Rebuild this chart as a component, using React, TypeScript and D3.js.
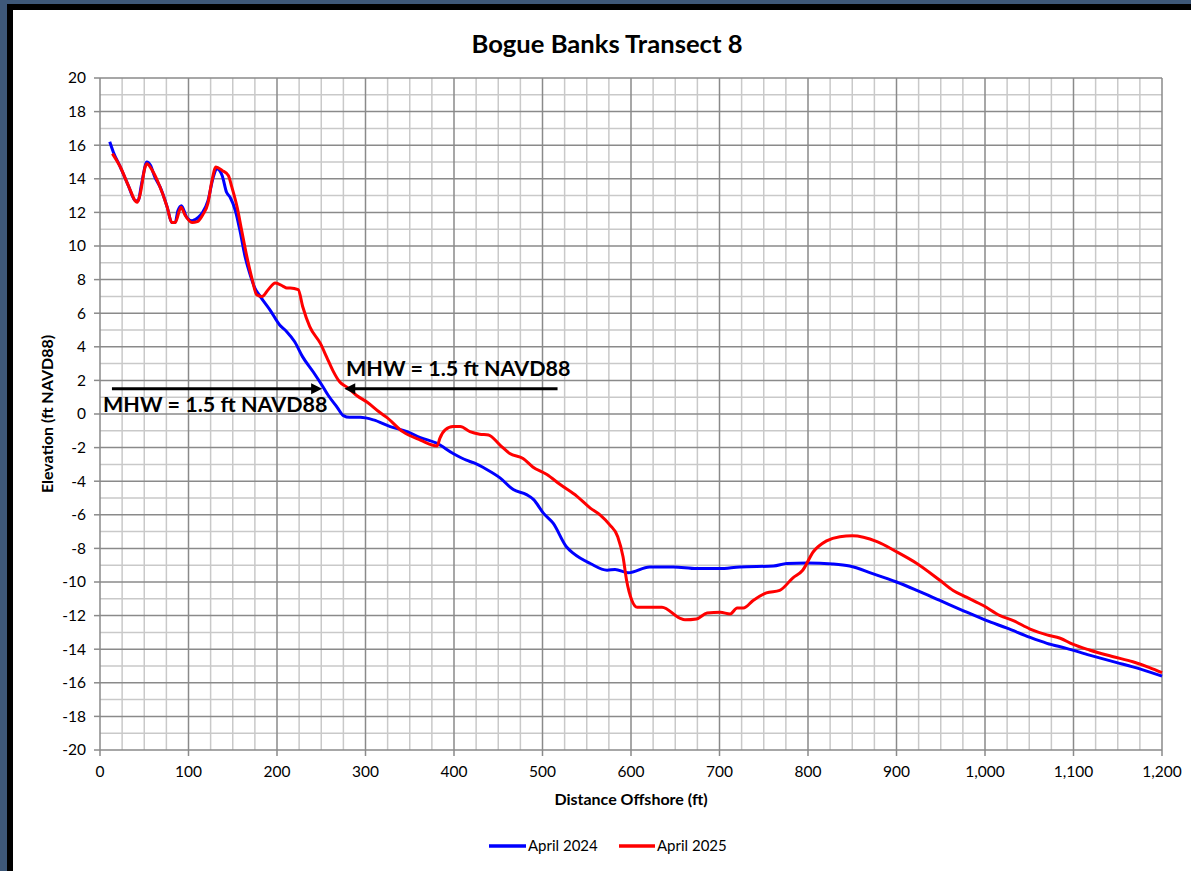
import React from "react";
import * as d3 from "d3";

// ---- Data ----
const title = "Bogue Banks Transect 8";
const xLabel = "Distance Offshore (ft)";
const yLabel = "Elevation (ft NAVD88)";
const seriesNames = ["April 2024", "April 2025"];
const seriesColors = ["#0000ff", "#ff0000"];

const xTicks = [0, 100, 200, 300, 400, 500, 600, 700, 800, 900, 1000, 1100, 1200];
const yTicks = [-20, -18, -16, -14, -12, -10, -8, -6, -4, -2, 0, 2, 4, 6, 8, 10, 12, 14, 16, 18, 20];

const april2024X = [11, 15, 23, 32, 40, 43, 47, 53, 57, 62, 68, 76, 81, 85, 88, 92, 98, 104, 111, 116, 122, 128, 132, 138, 143, 147, 153, 158, 164, 169, 175, 181, 192, 203, 211, 220, 229, 241, 251, 258, 268, 275, 282, 294, 309, 328, 347, 362, 381, 399, 414, 422, 437, 452, 467, 482, 490, 501, 512, 527, 535, 554, 573, 582, 597, 621, 648, 674, 700, 723, 761, 776, 799, 828, 847, 873, 900, 923, 949, 975, 1002, 1025, 1051, 1070, 1092, 1118, 1149, 1167, 1200];
const april2024Y = [16.2, 15.6, 14.7, 13.6, 12.7, 12.7, 13.7, 15.0, 14.8, 14.1, 13.5, 12.3, 11.4, 11.4, 12.1, 12.4, 11.7, 11.5, 11.7, 12.0, 12.7, 14.1, 14.6, 14.2, 13.2, 12.9, 12.1, 10.95, 9.35, 8.4, 7.5, 7.0, 6.2, 5.3, 4.9, 4.3, 3.4, 2.5, 1.7, 1.1, 0.4, -0.1, -0.2, -0.2, -0.35, -0.75, -1.05, -1.4, -1.75, -2.35, -2.75, -2.9, -3.3, -3.8, -4.5, -4.8, -5.1, -5.9, -6.5, -7.9, -8.3, -8.9, -9.3, -9.25, -9.45, -9.1, -9.1, -9.2, -9.2, -9.1, -9.05, -8.9, -8.87, -8.93, -9.05, -9.5, -10.0, -10.5, -11.1, -11.7, -12.3, -12.75, -13.3, -13.65, -13.95, -14.35, -14.8, -15.05, -15.6];

const april2025X = [14, 23, 32, 42, 45, 51, 53, 59, 66, 76, 81, 85, 91.5, 96, 104, 110, 116, 122, 126, 131, 138, 145, 149, 155, 160, 166, 172, 177, 183, 190, 198, 207, 211, 215, 224, 229, 237, 249, 256, 263, 271, 279, 290, 302, 316, 324, 342, 362, 381, 384, 390, 399, 407, 418, 429, 439, 452, 463, 478, 489, 505, 520, 539, 554, 565, 576, 585, 591, 595, 601, 607, 635, 655, 661, 674, 686, 701, 712, 720, 727, 738, 753, 768, 783, 794, 806, 821, 836, 850, 878, 900, 923, 949, 964, 979, 998, 1017, 1032, 1051, 1070, 1085, 1099, 1118, 1145, 1167, 1186, 1200];
const april2025Y = [15.5, 14.7, 13.6, 12.6, 13.0, 14.7, 14.9, 14.5, 13.75, 12.3, 11.4, 11.4, 12.3, 11.85, 11.4, 11.45, 11.85, 12.55, 13.75, 14.7, 14.5, 14.2, 13.5, 12.3, 10.95, 9.35, 8.0, 7.1, 7.0, 7.4, 7.8, 7.6, 7.5, 7.5, 7.4, 6.4, 5.2, 4.2, 3.4, 2.6, 1.9, 1.6, 1.1, 0.7, 0.1, -0.2, -1.05, -1.55, -1.9, -1.45, -0.95, -0.75, -0.75, -1.05, -1.2, -1.25, -1.85, -2.35, -2.65, -3.15, -3.6, -4.2, -4.9, -5.6, -6.0, -6.6, -7.3, -8.5, -9.9, -11.1, -11.5, -11.5, -12.15, -12.25, -12.2, -11.85, -11.8, -11.9, -11.55, -11.55, -11.1, -10.65, -10.5, -9.75, -9.3, -8.2, -7.55, -7.3, -7.25, -7.6, -8.2, -8.9, -9.9, -10.5, -10.9, -11.4, -12.0, -12.3, -12.8, -13.15, -13.35, -13.7, -14.05, -14.45, -14.75, -15.1, -15.4];

// MHW annotations: arrow start/end x (ft) at elevation mhwValue
const mhwValue = 1.5;
const mhwText = "MHW = 1.5 ft NAVD88";
const arrowFromX = [13.5, 517];
const arrowToX = [251, 276];

const W = 1191;
const H = 871;
const FONT = "Lato, 'Open Sans', sans-serif";

export default function App() {
  const left = 100, right = 1162, top = 78, bottom = 750;
  const x = d3.scaleLinear().domain([0, 1200]).range([left, right]);
  const y = d3.scaleLinear().domain([-20, 20]).range([bottom, top]);

  const minorX = d3.range(0, 1201, 25).filter((v) => v % 100 !== 0);
  const minorY = d3.range(-20, 21, 1).filter((v) => v % 2 !== 0);

  const line = d3
    .line<[number, number]>()
    .x((d) => x(d[0]))
    .y((d) => y(d[1]))
    .curve(d3.curveMonotoneX);

  const s1 = april2024X.map((v, i) => [v, april2024Y[i]] as [number, number]);
  const s2 = april2025X.map((v, i) => [v, april2025Y[i]] as [number, number]);

  const fmt = d3.format(",");
  const ay = y(mhwValue);

  const arrowHead = (tipX: number, dir: number) => {
    const len = 11, half = 5.5;
    return `M${tipX},${ay} L${tipX - dir * len},${ay - half} L${tipX - dir * len},${ay + half} Z`;
  };

  return (
    <div style={{ position: "absolute", left: 0, top: 0, width: W, height: H }}>
      <svg width={W} height={H} style={{ display: "block" }}>
        <rect x={0} y={0} width={W} height={H} fill="#3e5879" />
        <rect x={7} y={4} width={W - 7} height={H - 4} fill="#000" />
        <rect x={13} y={10} width={W - 13} height={H - 10} fill="#fff" />

        <text x={607} y={53} textAnchor="middle" fontFamily={FONT} fontWeight="bold" fontSize={25.6} fill="#000">
          {title}
        </text>

        {/* minor grid */}
        {minorX.map((v) => (
          <line key={"mx" + v} x1={x(v)} x2={x(v)} y1={top} y2={bottom} stroke="#c9c9c9" strokeWidth={1.5} />
        ))}
        {minorY.map((v) => (
          <line key={"my" + v} x1={left} x2={right} y1={y(v)} y2={y(v)} stroke="#c9c9c9" strokeWidth={1.5} />
        ))}
        {/* major grid */}
        {xTicks.map((v) => (
          <line key={"Mx" + v} x1={x(v)} x2={x(v)} y1={top} y2={bottom} stroke="#8a8a8a" strokeWidth={1.5} />
        ))}
        {yTicks.map((v) => (
          <line key={"My" + v} x1={left} x2={right} y1={y(v)} y2={y(v)} stroke="#8a8a8a" strokeWidth={1.5} />
        ))}

        {/* axes ticks */}
        {yTicks.map((v) => (
          <g key={"yt" + v}>
            <line x1={left - 6} x2={left} y1={y(v)} y2={y(v)} stroke="#8a8a8a" strokeWidth={1.5} />
            <text x={86} y={y(v)} dy="0.35em" textAnchor="end" fontFamily={FONT} fontSize={15.5} fill="#000">
              {v}
            </text>
          </g>
        ))}
        {xTicks.map((v) => (
          <g key={"xt" + v}>
            <line x1={x(v)} x2={x(v)} y1={bottom} y2={bottom + 6} stroke="#8a8a8a" strokeWidth={1.5} />
            <text x={x(v)} y={772} dy="0.35em" textAnchor="middle" fontFamily={FONT} fontSize={15.5} fill="#000">
              {fmt(v)}
            </text>
          </g>
        ))}

        <text x={631} y={805} textAnchor="middle" fontFamily={FONT} fontWeight="bold" fontSize={16} fill="#000">
          {xLabel}
        </text>
        <text
          transform={`translate(47,${(top + bottom) / 2}) rotate(-90)`}
          textAnchor="middle"
          dy="0.35em"
          fontFamily={FONT}
          fontWeight="bold"
          fontSize={16}
          fill="#000"
        >
          {yLabel}
        </text>

        {/* data */}
        <path d={line(s1) || ""} fill="none" stroke={seriesColors[0]} strokeWidth={3} strokeLinejoin="round" />
        <path d={line(s2) || ""} fill="none" stroke={seriesColors[1]} strokeWidth={3} strokeLinejoin="round" />

        {/* MHW annotations */}
        {arrowFromX.map((fx, i) => {
          const tx = arrowToX[i];
          const dir = tx > fx ? 1 : -1;
          return (
            <g key={"arr" + i}>
              <line x1={x(fx)} x2={x(tx) - dir * 8} y1={ay} y2={ay} stroke="#000" strokeWidth={3} />
              <path d={arrowHead(x(tx), dir)} fill="#000" />
            </g>
          );
        })}
        <text x={103} y={412} fontFamily={FONT} fontWeight="bold" fontSize={21.5} fill="#000">
          {mhwText}
        </text>
        <text x={346} y={376} fontFamily={FONT} fontWeight="bold" fontSize={21.5} fill="#000">
          {mhwText}
        </text>

        {/* legend */}
        <line x1={489} x2={526} y1={846} y2={846} stroke={seriesColors[0]} strokeWidth={3.5} />
        <text x={528} y={846} dy="0.35em" fontFamily={FONT} fontSize={15} fill="#000">
          {seriesNames[0]}
        </text>
        <line x1={619} x2={655} y1={846} y2={846} stroke={seriesColors[1]} strokeWidth={3.5} />
        <text x={657} y={846} dy="0.35em" fontFamily={FONT} fontSize={15} fill="#000">
          {seriesNames[1]}
        </text>
      </svg>
    </div>
  );
}
